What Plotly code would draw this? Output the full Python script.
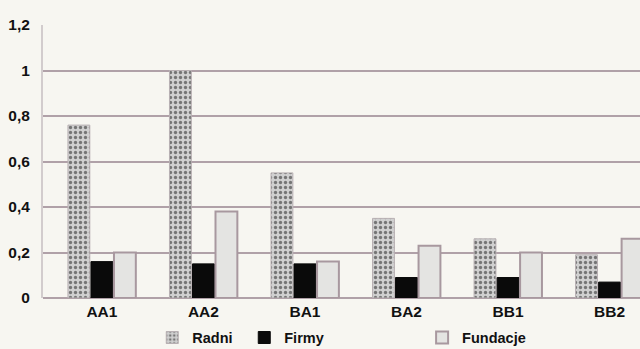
import plotly.graph_objects as go

categories = ["AA1", "AA2", "BA1", "BA2", "BB1", "BB2"]
radni = [0.76, 1.00, 0.55, 0.35, 0.26, 0.19]
firmy = [0.16, 0.15, 0.15, 0.09, 0.09, 0.07]
fundacje = [0.20, 0.38, 0.16, 0.23, 0.20, 0.26]
ytick_vals = [0, 0.2, 0.4, 0.6, 0.8, 1.0, 1.2]
ytick_text = ["0", "0,2", "0,4", "0,6", "0,8", "1", "1,2"]

fam = "Liberation Sans, Arial, sans-serif"
font = dict(family=fam, size=15.5, color="#111111", weight="bold")
lfont = dict(family=fam, size=14.5, color="#111111", weight="bold")

fig = go.Figure()
fig.add_trace(go.Bar(
    x=categories, y=radni, name="Radni", legend="legend",
    marker=dict(color="#c4c4c4", line=dict(color="#b8b0b3", width=1),
                pattern=dict(shape=".", fgcolor="#1a1a1a", bgcolor="#d0d0d0", size=5, solidity=0.35)),
))
fig.add_trace(go.Bar(
    x=categories, y=firmy, name="Firmy", legend="legend",
    marker=dict(color="#0a0a0a", line=dict(color="#0a0a0a", width=1)),
))
fig.add_trace(go.Bar(
    x=categories, y=fundacje, name="Fundacje", legend="legend2",
    marker=dict(color="#e4e4e2", line=dict(color="#a8989f", width=2)),
))

fig.update_layout(
    width=640, height=349,
    margin=dict(l=43, r=0, t=25, b=51, autoexpand=False),
    paper_bgcolor="#f7f6f1", plot_bgcolor="#f7f6f1",
    barmode="group", bargap=0.32, bargroupgap=0.05,
    font=font,
    showlegend=True,
    legend=dict(orientation="h", x=0.183, y=-0.145, xanchor="left", yanchor="middle",
                bgcolor="rgba(0,0,0,0)", font=lfont,
                entrywidth=47, itemwidth=30, traceorder="normal"),
    legend2=dict(orientation="h", x=0.635, y=-0.145, xanchor="left", yanchor="middle",
                 bgcolor="rgba(0,0,0,0)", font=lfont, itemwidth=30),
    xaxis=dict(range=[-0.58, 5.3], showgrid=False, showline=False, ticks="",
               tickfont=font, ticklabelstandoff=2, fixedrange=True, automargin=False),
    yaxis=dict(range=[0, 1.2], tickvals=ytick_vals, ticktext=ytick_text,
               showgrid=True, gridcolor="#b0a1a8", gridwidth=2,
               zeroline=True, zerolinecolor="#b0a1a8", zerolinewidth=2,
               showline=True, linecolor="#d2cccd", linewidth=2, automargin=False,
               ticks="", ticklabelstandoff=8, tickfont=font),
)

fig.write_html("out.html")
